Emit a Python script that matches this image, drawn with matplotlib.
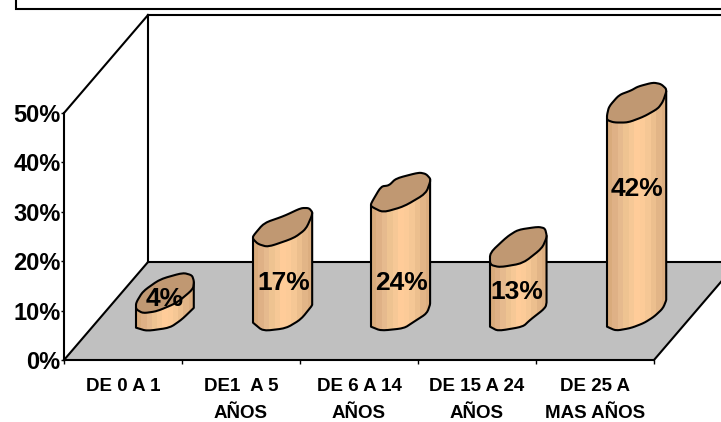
#coding:utf-8
import numpy as np
import matplotlib
matplotlib.use("Agg")
import matplotlib.pyplot as plt
from matplotlib.colors import ListedColormap
from matplotlib.patches import Polygon, Rectangle

categories = ["DE 0 A 1", "DE1  A 5\nAÑOS", "DE 6 A 14\nAÑOS", "DE 15 A 24\nAÑOS", "DE 25 A\nMAS AÑOS"]
values = [4, 17, 24, 13, 42]
y_ticks = [0, 10, 20, 30, 40, 50]

# wobbly outlines, pixels around the centre of each bar's end
cap_shapes = [
    [(-29,11.5),(-22,0),(-5,-12),(18,-18.5),(27,-16),(29,-10),(28,-2),(12,11.5),(-8,20),(-22,22),(-29,18)],
    [(-30,9),(-19,-4),(1,-11),(18,-19),(26,-19),(30,-14),(23,2),(11,11),(-15,20),(-25,17),(-30,12)],
    [(-30,11),(-20,-6),(-12,-7),(-5,-14),(18,-20),(25,-18.5),(30,-13),(25,1),(3,14),(-18,20),(-30,14)],
    [(-29,6),(-12,-10),(-1,-17),(19,-20),(26,-18.5),(28,-10),(23,1.5),(4,16.5),(-19,20.5),(-29,18)],
    [(-30,11.5),(-28,3),(-18,-8.5),(-6,-13),(1,-17),(16,-21),(24,-19.5),(30,-14),(26,-2),(21,5),(7,13),(-9,19),(-23,19),(-30,16.5)],
]
base_shapes = [
    [(-29,16.7),(-18,20),(5,16.7),(17,8.3),(29,-3.3)],
    [(-30,11.7),(-20,20),(3,17.3),(18,8.3),(30,-6.7)],
    [(-30,15.7),(-20,19.7),(3,17.3),(13,10.7),(26,2.3),(30,-9.3)],
    [(-29,15.7),(-21,20),(4,15.7),(11,9),(26,-2.7),(29,-11)],
    [(-30,15.7),(-21,19.7),(-6,17),(7,12),(17,5.7),(26,-2.7),(30,-12.7)],
]
label_shift = [(0, 2), (1, -14), (0, -31), (-2, -13), (0, 18)]  # px, from bar middle

PX_W = 118.0   # px per category
PX_H = 4.94    # px per 1%
DEPTH_X = 84 / PX_W
DEPTH_Y = 98 / PX_H

side_colors = ["#d9ab7c", "#dfb186", "#e6ba8e", "#eec391", "#f6c896", "#ffcc99",
               "#fccb98", "#f5c795", "#ecbf8e", "#e2b587", "#dcae80"]
cap_color = "#c09872"


def smooth(pts, closed=False, n=2, w=0.18):
    p = np.array(pts, dtype=float)
    for _ in range(n):
        nxt = np.roll(p, -1, axis=0) if closed else p[1:]
        cur = p if closed else p[:-1]
        q = np.empty((len(cur) * 2, 2))
        q[0::2] = (1-w) * cur + w * nxt
        q[1::2] = w * cur + (1-w) * nxt
        p = q if closed else np.vstack([p[0], q, p[-1]])
    return p


plt.rcParams['font.family'] = ['Liberation Sans', 'DejaVu Sans']
fig = plt.figure(figsize=(7.21, 4.22), dpi=100, facecolor="w")
ax = fig.add_axes([64/721, 1-360/422, (654-64)/721, (360-113)/422])
ax.patch.set_alpha(0)

# title box cut by the top of the picture
fig.add_artist(Rectangle((16/721, 1-9/422), 1.0, 0.1, transform=fig.transFigure,
                         fc="w", ec="k", lw=1.5))

# floor and walls
n = len(categories)
ax.add_patch(Polygon([(0, 0), (n, 0), (n+DEPTH_X, DEPTH_Y), (DEPTH_X, DEPTH_Y)],
                     fc="#c0c0c0", ec="none", clip_on=False, zorder=1))
wall = dict(color="k", lw=1.5, clip_on=False, zorder=2)
ax.plot([DEPTH_X, n+DEPTH_X], [DEPTH_Y, DEPTH_Y], **wall)
ax.plot([DEPTH_X, n+DEPTH_X], [50+DEPTH_Y, 50+DEPTH_Y], **wall)
ax.plot([DEPTH_X, DEPTH_X], [DEPTH_Y, 50+DEPTH_Y], **wall)
ax.plot([0, DEPTH_X], [50, 50+DEPTH_Y], **wall)
ax.plot([0, DEPTH_X], [0, DEPTH_Y], **wall)
ax.plot([n, n+DEPTH_X], [0, DEPTH_Y], **wall)

# bars
cmap = ListedColormap(side_colors)
for i, v in enumerate(values):
    cx = i + 0.5 + 0.5*DEPTH_X
    cy0 = 0.5*DEPTH_Y
    cap = smooth(cap_shapes[i], closed=True)
    base = smooth(base_shapes[i])
    cap_xy = np.c_[cx + cap[:, 0]/PX_W, cy0 + v - cap[:, 1]/PX_H]
    base_xy = np.c_[cx + base[:, 0]/PX_W, cy0 - base[:, 1]/PX_H]

    # sides run from the outermost points of the cap down to the base
    left = cap_xy[np.argmin(cap_xy[:, 0])]
    right = cap_xy[np.argmax(cap_xy[:, 0])]
    base_xy[:, 0] = np.clip(base_xy[:, 0], left[0], right[0])
    base_xy[0, 0], base_xy[-1, 0] = left[0], right[0]
    body = Polygon(np.vstack([left, right, base_xy[::-1]]),
                   fc="none", ec="k", lw=1.5, clip_on=False, zorder=3, joinstyle="round")
    ax.add_patch(body)
    img = ax.imshow(np.linspace(0, 1, len(side_colors))[None, :], cmap=cmap, aspect="auto",
                    extent=(left[0], right[0], 0, cy0 + v + 30/PX_H), zorder=2.9)
    img.set_clip_path(body)
    img.set_clip_box(fig.bbox)
    ax.add_patch(Polygon(cap_xy, fc=cap_color, ec="k", lw=1.5, clip_on=False, zorder=4,
                         joinstyle="round"))
    ax.annotate("%d%%" % v, xy=(cx, cy0 + v/2), xytext=(label_shift[i][0]*0.72, label_shift[i][1]*0.72),
                textcoords="offset points", ha="center", va="center",
                fontsize=19, fontweight="bold", color="k", zorder=5, annotation_clip=False)

ax.set_xlim(0, n)
ax.set_ylim(0, 50)

# axes
for s in ("top", "right"):
    ax.spines[s].set_visible(False)
for s in ("left", "bottom"):
    ax.spines[s].set_linewidth(1.5)
    ax.spines[s].set_zorder(2.5)
ax.set_yticks(y_ticks)
ax.set_yticklabels(["%d%%" % t for t in y_ticks], fontsize=17, fontweight="bold", va="center_baseline")
ax.tick_params(axis="y", length=2.5, width=1, pad=0)
ax.set_xticks(range(n+1))
ax.set_xticklabels([])
ax.tick_params(axis="x", length=3, width=1)
ax.set_xticks(np.arange(n) + 0.5, minor=True)
ax.set_xticklabels(categories, minor=True, fontsize=13.5, fontweight="bold", linespacing=1.8, va="top")
ax.tick_params(axis="x", which="minor", length=0, pad=13)

plt.savefig("out.png", dpi=100)
plt.close()
